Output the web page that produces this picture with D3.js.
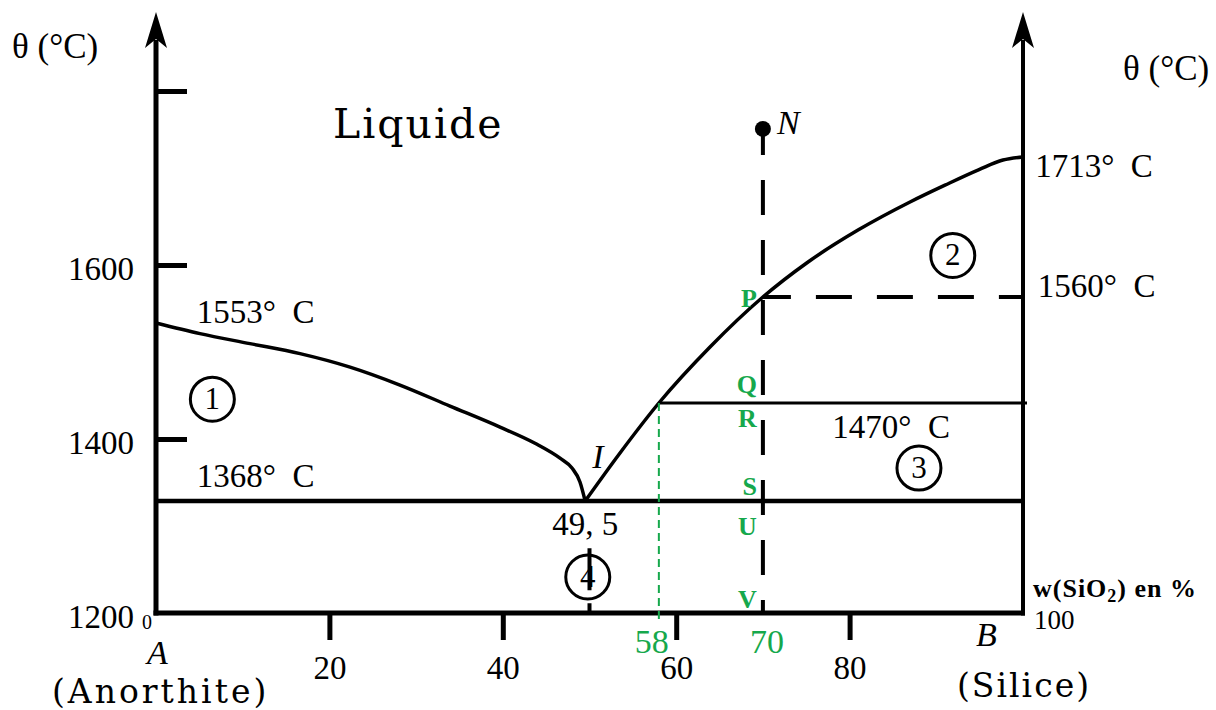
<!DOCTYPE html>
<html>
<head>
<meta charset="utf-8">
<script src="https://cdn.jsdelivr.net/npm/d3@7"></script>
<style>
  body { margin: 0; background: #fff; }
  svg { display: block; }
</style>
</head>
<body>
<svg id="chart" width="1216" height="710"></svg>
<script>
// Binary phase diagram Anorthite (A) – Silice (B)
// x: w(SiO2) in %, y: temperature θ in °C

const xTicks = [20, 40, 60, 80];
const yTicks = [1400, 1600, 1800];
const yTickLabels = [1200, 1400, 1600];

// liquidus branch on the anorthite side, from A (1553 °C) down to the eutectic I
const liquidusAnorthite = [
  [0, 1553], [5.07, 1542], [10.84, 1531.6], [16.61, 1521.2], [22.38, 1507.2],
  [28.14, 1488.6], [33.91, 1464], [39.68, 1423.1], [43.71, 1397.8],
  [46.6, 1390.1], [47.98, 1385], [48.9, 1377.8], [49.5, 1368]
];

// liquidus branch on the silica side, from I up to B (1713 °C)
const liquidusSilice = [
  [49.5, 1368], [53.52, 1392.8], [58, 1470], [63.9, 1528.1], [70, 1560],
  [75.09, 1602.4], [80.97, 1636.5], [86.97, 1665.9], [91.0, 1683.5],
  [94.93, 1699.8], [97.69, 1709.8], [100, 1713]
];

const eutecticW = 49.5;
const eutecticT = 1368;
const isothermT = 1470;
const isothermW = 58;
const pointW = 70;
const pointNT = 1750;
const pointPT = 1560;
const verticalIW = 50;
const verticalIT = 1297;

const tempLabels = [
  { text: "1553°\u2002C", w: 4.7, t: 1553 },
  { text: "1368°\u2002C", w: 4.7, t: 1368 },
  { text: "1470°\u2002C", w: 78, t: 1470 },
  { text: "1560°\u2002C", w: 101.7, t: 1560 },
  { text: "1713°\u2002C", w: 101.4, t: 1713 }
];

const regionNumbers = [
  { n: "1", w: 6.5, t: 1474 },
  { n: "2", w: 91.9, t: 1610 },
  { n: "3", w: 88, t: 1385 },
  { n: "4", w: 49.8, t: 1254 }
];

const stationNames = ["P", "Q", "R", "S", "U", "V"];
const stationTemps = [1560, 1470, 1470, 1368, 1368, 1200];

// ------------------------------------------------------------------
const svg = d3.select("#chart");
const serif = "'Liberation Serif', 'Times New Roman', serif";
const wide = "'DejaVu Serif', serif";
const green = "#16a84c";

const x = d3.scaleLinear().domain([0, 100]).range([156, 1023]);
// The diagram is schematic: the temperature axis is drawn piecewise so that
// every labelled isotherm sits at its drawn height between the axis ticks.
const y = d3.scaleLinear()
  .domain([1200, 1368, 1400, 1470, 1553, 1560, 1600, 1713, 1800])
  .range([613, 501, 439, 403, 323, 297, 265, 157, 91]);

const line = d3.line().x(d => x(d[0])).y(d => y(d[1])).curve(d3.curveMonotoneX);

// --- axes ---------------------------------------------------------
const axisG = svg.append("g");
axisG.append("line").attr("x1", x(0)).attr("x2", x(0)).attr("y1", y(1200) + 2.5).attr("y2", 40)
  .attr("stroke", "#000").attr("stroke-width", 5);
axisG.append("line").attr("x1", x(100)).attr("x2", x(100)).attr("y1", y(1200) + 2.5).attr("y2", 40)
  .attr("stroke", "#000").attr("stroke-width", 4);
axisG.append("line").attr("x1", x(0) - 2.5).attr("x2", x(100) + 2).attr("y1", y(1200)).attr("y2", y(1200))
  .attr("stroke", "#000").attr("stroke-width", 5);

function arrowHead(cx) {
  const p = d3.path();
  p.moveTo(cx, 12);
  p.lineTo(cx + 11, 48);
  p.lineTo(cx, 39);
  p.lineTo(cx - 11, 48);
  p.closePath();
  axisG.append("path").attr("d", p.toString()).attr("fill", "#000");
}
arrowHead(x(0));
arrowHead(x(100));

// x ticks and labels
const xAxis = d3.axisBottom(x).tickValues(xTicks).tickSize(27).tickFormat(d3.format("d"));
const gx = svg.append("g").attr("transform", `translate(0,${y(1200)})`).call(xAxis);
gx.select(".domain").remove();
gx.selectAll(".tick line").attr("stroke", "#000").attr("stroke-width", 5);
gx.selectAll(".tick text").attr("fill", "#000").attr("font-family", serif)
  .attr("font-size", 33).attr("dy", null).attr("y", 66);

// y ticks (left) and labels
const yAxis = d3.axisRight(y).tickValues(yTicks).tickSize(31).tickFormat("");
const gy = svg.append("g").attr("transform", `translate(${x(0)},0)`).call(yAxis);
gy.select(".domain").remove();
gy.selectAll(".tick line").attr("stroke", "#000").attr("stroke-width", 5);
svg.append("g").selectAll("text").data(yTickLabels).join("text")
  .attr("x", 134).attr("y", d => y(d) + 15)
  .attr("text-anchor", "end").attr("font-family", serif).attr("font-size", 33)
  .text(d => d);

// axis titles and end labels
svg.append("text").attr("x", 12).attr("y", 58).attr("font-family", serif).attr("font-size", 35).text("θ (°C)");
svg.append("text").attr("x", 1123).attr("y", 80).attr("font-family", serif).attr("font-size", 35).text("θ (°C)");
svg.append("text").attr("x", x(0) - 14).attr("y", 629).attr("font-family", serif).attr("font-size", 20).text("0");
svg.append("text").attr("x", x(0) - 9).attr("y", 664).attr("font-family", serif).attr("font-style", "italic").attr("font-size", 34).text("A");
svg.append("text").attr("x", 976).attr("y", 646).attr("font-family", serif).attr("font-style", "italic").attr("font-size", 34).text("B");
svg.append("text").attr("x", 1034).attr("y", 629).attr("font-family", serif).attr("font-size", 27).text("100");
svg.append("text").attr("x", 52).attr("y", 703).attr("font-family", wide).attr("font-size", 33)
  .attr("letter-spacing", 3).text("(Anorthite)");
svg.append("text").attr("x", 957).attr("y", 697).attr("font-family", wide).attr("font-size", 33)
  .attr("letter-spacing", 2).text("(Silice)");
const wl = svg.append("text").attr("x", 1033).attr("y", 597).attr("font-family", serif)
  .attr("font-weight", "bold").attr("font-size", 26).attr("letter-spacing", 1);
wl.append("tspan").text("w(SiO");
wl.append("tspan").attr("font-size", 18).attr("dy", 5).text("2");
wl.append("tspan").attr("dy", -5).text(") en %");

svg.append("text").attr("x", 333).attr("y", 138).attr("font-family", wide).attr("font-size", 41)
  .attr("letter-spacing", 2).text("Liquide");

// --- phase boundaries --------------------------------------------
svg.append("line").attr("x1", x(0)).attr("x2", x(100)).attr("y1", y(eutecticT)).attr("y2", y(eutecticT))
  .attr("stroke", "#000").attr("stroke-width", 4.5);
svg.append("line").attr("x1", x(isothermW)).attr("x2", x(100) + 4).attr("y1", y(isothermT)).attr("y2", y(isothermT))
  .attr("stroke", "#000").attr("stroke-width", 3);

svg.append("path").datum(liquidusAnorthite).attr("d", line)
  .attr("fill", "none").attr("stroke", "#000").attr("stroke-width", 3.5);
svg.append("path").datum(liquidusSilice).attr("d", line)
  .attr("fill", "none").attr("stroke", "#000").attr("stroke-width", 3.5);

// cooling path of point N and the isotherm through P
svg.append("line").attr("x1", x(pointW)).attr("x2", x(pointW)).attr("y1", y(pointNT)).attr("y2", y(1200))
  .attr("stroke", "#000").attr("stroke-width", 4).attr("stroke-dasharray", "35,25").attr("stroke-dashoffset", 9);
svg.append("line").attr("x1", x(pointW)).attr("x2", x(100)).attr("y1", y(pointPT)).attr("y2", y(pointPT))
  .attr("stroke", "#000").attr("stroke-width", 4).attr("stroke-dasharray", "36,25").attr("stroke-dashoffset", 8);
svg.append("circle").attr("cx", x(pointW)).attr("cy", y(pointNT)).attr("r", 8).attr("fill", "#000");
svg.append("text").attr("x", x(pointW) + 14).attr("y", y(pointNT) + 5).attr("font-family", serif)
  .attr("font-style", "italic").attr("font-size", 34).text("N");

// vertical below the eutectic
svg.append("line").attr("x1", x(verticalIW)).attr("x2", x(verticalIW)).attr("y1", y(verticalIT)).attr("y2", y(1200))
  .attr("stroke", "#000").attr("stroke-width", 4).attr("stroke-dasharray", "42,13");

// green composition guide at 58 %
svg.append("line").attr("x1", x(isothermW)).attr("x2", x(isothermW)).attr("y1", y(isothermT)).attr("y2", y(1200) + 6)
  .attr("stroke", green).attr("stroke-width", 2).attr("stroke-dasharray", "8,5");
svg.append("text").attr("x", x(isothermW) - 7).attr("y", 653).attr("text-anchor", "middle")
  .attr("font-family", serif).attr("font-size", 34).attr("fill", green).text(isothermW);
svg.append("text").attr("x", x(pointW) + 4).attr("y", 653).attr("text-anchor", "middle")
  .attr("font-family", serif).attr("font-size", 34).attr("fill", green).text(pointW);

// --- labels ------------------------------------------------------
const tempDy = [0, -14, 35, 0, 20];
svg.append("g").selectAll("text").data(tempLabels).join("text")
  .attr("x", d => x(d.w)).attr("y", (d, i) => y(d.t) + tempDy[i])
  .attr("font-family", serif).attr("font-size", 33).text(d => d.text);

svg.append("text").attr("x", x(eutecticW)).attr("y", y(eutecticT) + 34).attr("text-anchor", "middle")
  .attr("font-family", serif).attr("font-size", 33).text("49, 5");
svg.append("text").attr("x", x(eutecticW) + 7).attr("y", y(eutecticT) - 33)
  .attr("font-family", serif).attr("font-style", "italic").attr("font-size", 34).text("I");

const stationDy = [10, -10, 24, -6, 34, -5];
svg.append("g").selectAll("text").data(stationNames).join("text")
  .attr("x", x(pointW) - 6).attr("y", (d, i) => y(stationTemps[i]) + stationDy[i])
  .attr("text-anchor", "end").attr("font-family", serif).attr("font-weight", "bold")
  .attr("font-size", 26).attr("fill", green).text(d => d);

const rg = svg.append("g").selectAll("g").data(regionNumbers).join("g")
  .attr("transform", d => `translate(${x(d.w)},${y(d.t)})`);
rg.append("circle").attr("r", 22).attr("fill", "none").attr("stroke", "#000").attr("stroke-width", 3);
rg.append("text").attr("y", 10).attr("text-anchor", "middle").attr("font-family", serif)
  .attr("font-size", 31).text(d => d.n);
</script>
</body>
</html>
